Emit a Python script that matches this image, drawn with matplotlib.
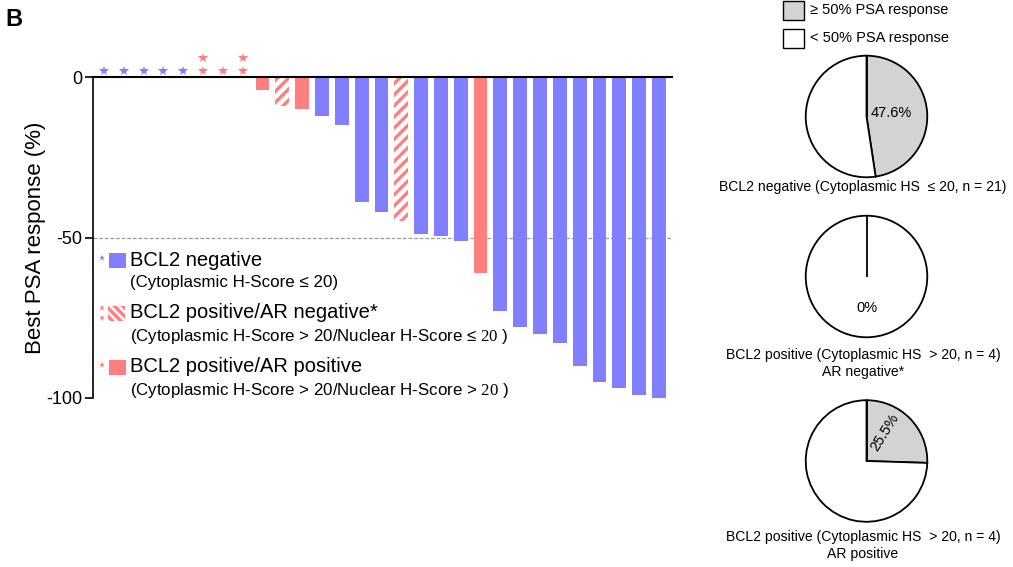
import matplotlib
matplotlib.use("Agg")
import matplotlib.pyplot as plt
from matplotlib.patches import Rectangle
from matplotlib.lines import Line2D

plt.rcParams['font.family'] = ['Liberation Sans', 'DejaVu Sans']
plt.rcParams['mathtext.fontset'] = 'custom'
plt.rcParams['mathtext.rm'] = 'Liberation Serif'
plt.rcParams['hatch.linewidth'] = 2.4

# ---- waterfall data: best PSA response per patient ----
psa_response = [0, 0, 0, 0, 0, 0, 0, 0,
                 -4, -9, -10, -12, -15, -39, -42, -45, -49, -49.5, -51,
                 -61, -73, -78, -80, -83, -90, -95, -97, -99, -100]
group = (['neg'] * 5 +
         ['arneg', 'arpos', 'arneg', 'arpos', 'arneg', 'arpos',
          'neg', 'neg', 'neg', 'neg', 'arneg', 'neg', 'neg', 'neg', 'arpos'] +
         ['neg'] * 9)
psa_rise = [True] * 8 + [False] * 21
yticks = [0, -50, -100]
threshold = -50

# ---- pie data: share of patients with >= 50% PSA response ----
pie_pct = [47.6, 0.0, 25.5]
pie_titles = ['BCL2 negative (Cytoplasmic HS  \u2264 20, n = 21)',
              'BCL2 positive (Cytoplasmic HS  > 20, n = 4)\nAR negative*',
              'BCL2 positive (Cytoplasmic HS  > 20, n = 4)\nAR positive']

BLUE = '#7F7FFF'
RED = '#FF7F7F'
GRAY = '#D3D3D3'

W, H = 1013, 567
fig = plt.figure(figsize=(W / 100, H / 100), dpi=100)


def fx(x):
    return x / W


def fy(y):
    return 1 - y / H


# ---- waterfall axes ----
ax = fig.add_axes([fx(93), fy(398), fx(672) - fx(93), fy(77) - fy(398)])
xs = list(range(len(psa_response)))
for x, v, g in zip(xs, psa_response, group):
    if g == 'arneg':
        ax.bar(x, v, width=0.7, facecolor='white', edgecolor=RED,
               linewidth=0, hatch='///')
    else:
        ax.bar(x, v, width=0.7, color=BLUE if g == 'neg' else RED,
               linewidth=0)

# markers for patients whose PSA rose
for x, rise, g in zip(xs, psa_rise, group):
    if not rise:
        continue
    col = BLUE if g == 'neg' else RED
    levels = [2, 6] if g == 'arneg' else [2]
    for lv in levels:
        ax.plot(x, lv, marker='*', color=col, markersize=7.5, clip_on=False,
                markeredgewidth=0)

ax.axhline(threshold, color='#9A9A9A', linestyle=(0, (3, 1.5)), linewidth=0.9,
           zorder=0)
ax.set_xlim(-0.555, len(psa_response) - 0.34)
ax.set_ylim(-100, 0)
ax.set_yticks(yticks)
ax.set_yticklabels([str(t) for t in yticks])
ax.set_xticks([])
for s in ['right', 'bottom']:
    ax.spines[s].set_visible(False)
ax.spines['left'].set_linewidth(1.2)
ax.spines['top'].set_linewidth(1.5)
ax.tick_params(axis='y', direction='out', length=6, width=1.2, labelsize=13,
               pad=2)
ax.set_ylabel('Best PSA response (%)', fontsize=16, labelpad=0)

fig.text(fx(5), fy(19), 'B', fontsize=17, fontweight='bold', va='center')

# ---- legend for the waterfall ----
leg_items = [
    ('neg', 260, 'BCL2 negative', '(Cytoplasmic H-Score \u2264 20)'),
    ('arneg', 313, 'BCL2 positive/AR negative*',
     '(Cytoplasmic H-Score > 20/Nuclear H-Score \u2264 $\\mathrm{20}$ )'),
    ('arpos', 367, 'BCL2 positive/AR positive',
     '(Cytoplasmic H-Score > 20/Nuclear H-Score > $\\mathrm{20}$ )'),
]
for g, yc, title, sub in leg_items:
    if g == 'arneg':
        patch = Rectangle((fx(108), fy(yc + 8)), fx(17), 15 / H,
                          transform=fig.transFigure, facecolor='white',
                          edgecolor=RED, linewidth=0, hatch='\\\\\\\\')
        stars = [yc - 5, yc + 5]
    else:
        patch = Rectangle((fx(109), fy(yc + 8)), fx(17), 15 / H,
                          transform=fig.transFigure,
                          facecolor=BLUE if g == 'neg' else RED, linewidth=0)
        stars = [yc - 2]
    fig.patches.append(patch)
    col = BLUE if g == 'neg' else RED
    for sy in stars:
        fig.add_artist(Line2D([fx(101.5)], [fy(sy)], marker='*', color=col,
                              markersize=4.5, markeredgewidth=0,
                              transform=fig.transFigure))
    fig.text(fx(130), fy(yc), title, fontsize=14.5, va='center')
    fig.text(fx(130), fy(yc + 23), sub, fontsize=12.2, va='center')

# ---- pie legend ----
for yt, col, lab in [(1, GRAY, '\u2265 50% PSA response'),
                     (29, 'white', '< 50% PSA response')]:
    fig.patches.append(Rectangle((fx(783), fy(yt + 19)), fx(21), 19 / H,
                                 transform=fig.transFigure, facecolor=col,
                                 edgecolor='black', linewidth=1.0))
    fig.text(fx(810), fy(yt + 9), lab, fontsize=10.5, va='center')

# ---- pies ----
pie_centers = [116.5, 276.5, 461]
pct_pos = [(0.40, 0.05), (0.0, -0.52), (0.30, 0.47)]
pct_rot = [0, 0, 58]
title_y = [180, 348, 530]
R = 62
for pct, cy, pos, rot, ttl, ty in zip(pie_pct, pie_centers, pct_pos, pct_rot,
                                      pie_titles, title_y):
    pax = fig.add_axes([fx(866.5 - R), fy(cy + R), 2 * R / W, 2 * R / H])
    pax.pie([pct, 100 - pct], colors=[GRAY, 'white'], startangle=90,
            counterclock=False, radius=1,
            wedgeprops=dict(edgecolor='black', linewidth=1.3))
    # wedge boundary at 12 o'clock (still shown for an empty share)
    pax.plot([0, 0], [0, 1], color='black', linewidth=1.3,
             solid_capstyle='butt')
    pax.set_xlim(-1.02, 1.02)
    pax.set_ylim(-1.02, 1.02)
    pax.set_aspect('auto')
    pax.axis('off')
    pax.text(pos[0], pos[1], f'{pct:g}%', fontsize=10.5, ha='center',
             va='center', rotation=rot)
    fig.text(fx(863), fy(ty), ttl, fontsize=10.1, ha='center', va='top',
             linespacing=1.3)

fig.savefig('out.png', dpi=100)
